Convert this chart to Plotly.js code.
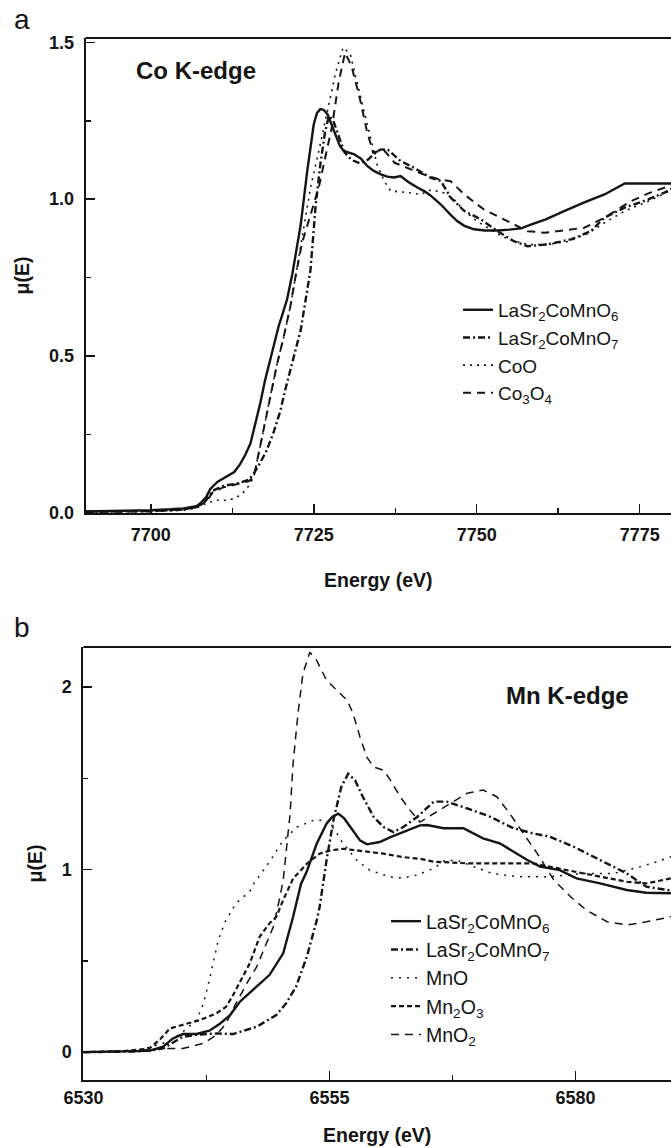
<!DOCTYPE html>
<html>
<head>
<meta charset="utf-8">
<script src="https://cdn.plot.ly/plotly-3.0.1.min.js"></script>
<style>html,body{margin:0;padding:0;background:#fff;overflow:hidden}</style>
</head>
<body>
<div id="chart" style="width:671px;height:1148px"></div>
<script>
// ---------- Panel a: Co K-edge ----------
const coNames = ["LaSr<sub>2</sub>CoMnO<sub>6</sub>", "LaSr<sub>2</sub>CoMnO<sub>7</sub>", "CoO", "Co<sub>3</sub>O<sub>4</sub>"];

const coE_LSCMO6 = [7690,7695,7700,7703,7705,7707,7707.6,7708.5,7709.1,7710.2,7711,7711.7,7712.8,7713.7,7714.5,7715.3,7716.0,7716.8,7717.5,7718.3,7719.0,7719.6,7720.3,7720.9,7721.7,7722.4,7723.0,7724.0,7725.0,7725.5,7726.0,7726.5,7727.1,7728.1,7729.0,7729.6,7730.4,7731.2,7732.2,7733.2,7734.2,7735.3,7736.3,7737.3,7738.3,7739.5,7740.9,7742.0,7742.9,7744.5,7746.0,7747.0,7748.1,7749.6,7751.2,7753.2,7755.0,7756.8,7758.5,7760.5,7763.4,7766.5,7769.6,7771.5,7772.7,7776,7780];
const coMu_LSCMO6 = [0.004,0.005,0.008,0.011,0.014,0.021,0.03,0.05,0.075,0.098,0.108,0.114,0.13,0.155,0.185,0.222,0.28,0.35,0.42,0.487,0.545,0.594,0.64,0.68,0.76,0.84,0.919,1.09,1.239,1.275,1.287,1.285,1.271,1.218,1.17,1.154,1.148,1.143,1.13,1.106,1.09,1.079,1.072,1.069,1.074,1.055,1.037,1.025,1.012,0.983,0.95,0.93,0.915,0.904,0.9,0.9,0.903,0.907,0.92,0.935,0.962,0.99,1.015,1.035,1.05,1.05,1.05];

const coE_LSCMO7 = [7690,7700,7705,7707,7708.3,7709.5,7711,7713.2,7715,7715.8,7716.8,7717.8,7718.9,7719.9,7720.6,7721.4,7722.2,7723.0,7724.0,7724.5,7725.3,7726.0,7726.7,7727.3,7728.0,7728.8,7729.7,7730.8,7732.0,7733.0,7734.2,7735.2,7736.3,7738.3,7740.4,7742.9,7744.5,7746.0,7748.1,7750.6,7753.2,7755.7,7757.8,7760.9,7764.5,7767.5,7769.6,7772.7,7776.3,7778.8,7780];
const coMu_LSCMO7 = [0.003,0.005,0.01,0.018,0.035,0.07,0.085,0.093,0.105,0.125,0.16,0.2,0.26,0.327,0.39,0.455,0.52,0.583,0.711,0.775,0.983,1.11,1.21,1.265,1.25,1.2,1.15,1.125,1.115,1.12,1.143,1.158,1.159,1.122,1.1,1.069,1.058,1.005,0.962,0.936,0.898,0.866,0.85,0.856,0.872,0.898,0.941,0.973,0.999,1.021,1.035];

const coE_CoO = [7690,7700,7705,7707,7708.5,7710,7711.5,7712.8,7714,7715,7715.8,7716.5,7717.3,7718.3,7719.4,7720.4,7721.4,7722.2,7723.0,7724.5,7726.0,7727.3,7728.3,7729.5,7730.6,7731.2,7732.2,7733.2,7734.0,7734.7,7735.8,7736.8,7739.4,7741.4,7743.0,7745.0,7746.5,7748.0,7750.0,7752.0,7754.0,7756.0,7758.0,7760.5,7764.0,7767.0,7770.0,7773.0,7776.0,7779.0,7780];
const coMu_CoO = [0.002,0.004,0.008,0.015,0.03,0.04,0.04,0.045,0.06,0.085,0.114,0.18,0.264,0.37,0.477,0.562,0.657,0.753,0.856,1.037,1.175,1.303,1.399,1.484,1.463,1.41,1.324,1.239,1.165,1.111,1.058,1.026,1.021,1.015,1.03,1.02,1.0,0.965,0.93,0.905,0.88,0.865,0.855,0.855,0.865,0.89,0.93,0.965,0.99,1.02,1.03];

const coE_Co3O4 = [7690,7700,7705,7707,7708.5,7709.5,7711,7713.2,7715,7715.8,7717.3,7718.3,7719.4,7720.4,7721.4,7722.2,7723.2,7724.5,7725.8,7726.8,7727.8,7728.8,7729.8,7730.8,7732.1,7733.1,7734.1,7735.7,7737.4,7740.0,7742.6,7744.5,7746.0,7748.1,7751.1,7754.7,7757.8,7760.4,7763.4,7766.5,7769.6,7773.7,7776.5,7778.8,7780];
const coMu_Co3O4 = [0.003,0.005,0.01,0.018,0.035,0.065,0.08,0.09,0.1,0.114,0.264,0.37,0.477,0.562,0.657,0.753,0.86,0.95,1.04,1.137,1.232,1.371,1.467,1.424,1.318,1.222,1.148,1.158,1.116,1.094,1.073,1.062,1.057,1.015,0.967,0.93,0.898,0.893,0.9,0.909,0.941,0.994,1.02,1.037,1.045];

// ---------- Panel b: Mn K-edge ----------
const mnNames = ["LaSr<sub>2</sub>CoMnO<sub>6</sub>", "LaSr<sub>2</sub>CoMnO<sub>7</sub>", "MnO", "Mn<sub>2</sub>O<sub>3</sub>", "MnO<sub>2</sub>"];

const mnE_LSCMO6 = [6530,6533,6536,6536.7,6538.1,6539.1,6540.1,6541.5,6542.8,6543.9,6544.9,6545.9,6547.2,6548.9,6550.3,6551.3,6552.1,6552.7,6553.7,6554.7,6555.3,6555.9,6556.5,6557.1,6558.1,6558.8,6560.1,6561.2,6562.5,6564.2,6564.9,6566.6,6568.6,6570.6,6572.3,6573.7,6575.1,6576.4,6578.4,6580.1,6582.5,6585.2,6587.2,6589.7];
const mnMu_LSCMO6 = [0.0,0.003,0.005,0.007,0.03,0.075,0.099,0.099,0.117,0.157,0.203,0.276,0.34,0.422,0.541,0.74,0.92,0.99,1.141,1.251,1.29,1.306,1.28,1.233,1.16,1.138,1.151,1.178,1.205,1.242,1.244,1.226,1.226,1.171,1.144,1.098,1.052,1.016,0.997,0.952,0.924,0.888,0.873,0.87];

const mnE_LSCMO7 = [6530,6535,6537,6538.1,6540.1,6541.5,6543.5,6545.2,6547.6,6549.6,6550.6,6551.6,6552.7,6553.7,6554.0,6554.7,6555.4,6556.2,6556.9,6557.6,6558.4,6559.5,6560.5,6561.5,6562.5,6563.9,6565.6,6566.9,6569.0,6571.3,6573.7,6575.7,6577.4,6579.8,6582.5,6585.2,6587.2,6589.7];
const mnMu_LSCMO7 = [0.0,0.003,0.01,0.02,0.084,0.095,0.102,0.099,0.139,0.203,0.267,0.358,0.522,0.72,0.795,1.05,1.27,1.452,1.525,1.489,1.397,1.288,1.233,1.205,1.233,1.288,1.372,1.372,1.335,1.29,1.226,1.198,1.18,1.125,1.052,0.979,0.906,0.885];

const mnE_MnO = [6530,6534,6536,6538.1,6539.2,6540.1,6541.5,6542.2,6542.8,6543.3,6543.7,6544.4,6545.5,6546.9,6547.3,6549.0,6550.3,6551.7,6553.4,6554.7,6555.5,6556.4,6557.8,6559.1,6561.2,6562.4,6563.9,6565.6,6566.7,6568.0,6569.5,6571.5,6574.0,6577.4,6580.8,6583.9,6586.6,6588.3,6589.7];
const mnMu_MnO = [0.0,0.005,0.015,0.048,0.075,0.111,0.175,0.267,0.395,0.522,0.614,0.714,0.815,0.88,0.922,1.05,1.16,1.233,1.27,1.27,1.22,1.141,1.05,0.996,0.959,0.953,0.97,1.006,1.05,1.05,1.02,0.979,0.961,0.961,0.979,0.979,1.016,1.043,1.07];

const mnE_Mn2O3 = [6530,6534,6536.7,6537.8,6538.8,6540.1,6541.8,6543.5,6544.5,6545.2,6546.2,6546.9,6547.9,6548.9,6549.6,6550.3,6551.3,6552.7,6554.0,6555.1,6556.4,6558.4,6560.5,6562.5,6564.2,6565.6,6569.0,6572.3,6575.7,6579.1,6582.5,6585.2,6587.2,6589.7];
const mnMu_Mn2O3 = [0.0,0.005,0.02,0.07,0.13,0.148,0.175,0.212,0.248,0.312,0.413,0.486,0.632,0.705,0.741,0.833,0.95,1.032,1.087,1.105,1.114,1.101,1.087,1.068,1.059,1.043,1.034,1.034,1.034,0.997,0.961,0.933,0.924,0.952];

const mnE_MnO2 = [6530,6535,6538.1,6540.1,6542.2,6543.5,6544.5,6545.5,6546.6,6547.6,6548.6,6549.3,6549.9,6550.3,6551.0,6551.3,6551.8,6552.3,6553.0,6553.7,6554.7,6555.7,6556.8,6557.4,6558.1,6558.8,6559.5,6560.5,6561.2,6562.2,6563.2,6564.2,6565.6,6567.3,6569.0,6570.6,6572.0,6573.3,6574.7,6576.1,6577.8,6579.5,6581.1,6583.2,6585.2,6587.2,6589.7];
const mnMu_MnO2 = [0.0,0.005,0.02,0.02,0.048,0.093,0.157,0.267,0.376,0.467,0.596,0.687,0.833,0.941,1.306,1.58,1.854,2.073,2.19,2.146,2.037,1.982,1.927,1.854,1.726,1.616,1.562,1.544,1.489,1.397,1.324,1.26,1.308,1.363,1.418,1.436,1.399,1.308,1.198,1.089,0.942,0.851,0.778,0.714,0.696,0.714,0.741];

// ---------- Tick settings ----------
const coTicks = [7700, 7725, 7750, 7775];
const coYTicks = [0, 0.5, 1.0, 1.5];
const mnTicks = [6530, 6555, 6580];
const mnYTicks = [0, 1, 2];

const INK = '#141414';
const FONT = 'Liberation Sans, Arial, Helvetica, sans-serif';

function tr(x, y, name, xa, ya, leg, width, dash) {
  return {x: x, y: y, name: name, type: 'scatter', mode: 'lines',
          xaxis: xa, yaxis: ya, legend: leg,
          line: {color: INK, width: width, dash: dash}, hoverinfo: 'skip'};
}

const data = [
  tr(coE_LSCMO6, coMu_LSCMO6, coNames[0], 'x', 'y', 'legend', 2.4, 'solid'),
  tr(coE_LSCMO7, coMu_LSCMO7, coNames[1], 'x', 'y', 'legend', 2.4, '7px,3px,2px,3px'),
  tr(coE_CoO, coMu_CoO, coNames[2], 'x', 'y', 'legend', 1.6, '2px,5px'),
  tr(coE_Co3O4, coMu_Co3O4, coNames[3], 'x', 'y', 'legend', 2.0, '8px,6px'),
  tr(mnE_LSCMO6, mnMu_LSCMO6, mnNames[0], 'x2', 'y2', 'legend2', 2.4, 'solid'),
  tr(mnE_LSCMO7, mnMu_LSCMO7, mnNames[1], 'x2', 'y2', 'legend2', 2.4, '7px,3px,2px,3px'),
  tr(mnE_MnO, mnMu_MnO, mnNames[2], 'x2', 'y2', 'legend2', 1.5, '2px,6px'),
  tr(mnE_Mn2O3, mnMu_Mn2O3, mnNames[3], 'x2', 'y2', 'legend2', 2.2, '5px,3px'),
  tr(mnE_MnO2, mnMu_MnO2, mnNames[4], 'x2', 'y2', 'legend2', 1.5, '8px,6px')
];

const tickFont = {family: FONT, size: 18, color: INK, weight: 'bold'};
const titleFont = {family: FONT, size: 19.5, color: INK, weight: 'bold'};

function xax(domain, anchor, range, ticks, standoff, labelGap) {
  return {domain: domain, anchor: anchor, range: range,
    tickmode: 'array', tickvals: ticks, ticks: 'inside', ticklen: 9, tickwidth: 1.5, tickcolor: INK,
    minor: {ticks: 'inside', ticklen: 5, tickwidth: 1.5, tickcolor: INK, dtick: 12.5, tick0: ticks[0]},
    showline: true, linewidth: 2, linecolor: INK, showgrid: false, zeroline: false,
    tickfont: tickFont, ticklabelstandoff: labelGap,
    title: {text: 'Energy (eV)', font: titleFont, standoff: standoff}};
}
function yax(domain, anchor, range, ticks, fmt, minorStep) {
  return {domain: domain, anchor: anchor, range: range,
    tickmode: 'array', tickvals: ticks, tickformat: fmt, ticks: 'inside', ticklen: 9, tickwidth: 1.5, tickcolor: INK,
    minor: {ticks: 'inside', ticklen: 5, tickwidth: 1.5, tickcolor: INK, dtick: minorStep, tick0: 0},
    showline: true, linewidth: 2, linecolor: INK, showgrid: false, zeroline: false,
    tickfont: tickFont, ticklabelstandoff: 6,
    title: {text: 'μ(E)', font: titleFont, standoff: 14}};
}

const layout = {
  width: 671, height: 1148,
  margin: {l: 0, r: 0, t: 0, b: 0},
  paper_bgcolor: '#ffffff', plot_bgcolor: '#ffffff',
  font: {family: FONT, color: INK},
  xaxis: xax([0.1276, 1], 'y', [7690, 7779.8], coTicks, 30, 4),
  yaxis: yax([0.5531, 0.9669], 'x', [-0.001, 1.514], coYTicks, '.1f', 0.25),
  xaxis2: xax([0.1243, 1], 'y2', [6530, 6589.7], mnTicks, 22, 0),
  yaxis2: yax([0.0592, 0.4364], 'x2', [-0.153, 2.219], mnYTicks, 'd', 0.5),
  legend: {x: 0.6826, y: 0.7466, xanchor: 'left', yanchor: 'top', bgcolor: 'rgba(0,0,0,0)',
           font: {family: FONT, size: 19, color: INK}, tracegroupgap: 0},
  legend2: {x: 0.5753, y: 0.2143, xanchor: 'left', yanchor: 'top', bgcolor: 'rgba(0,0,0,0)',
           font: {family: FONT, size: 19.5, color: INK}, tracegroupgap: 0},
  shapes: [
    {type: 'line', xref: 'x domain', yref: 'y domain', x0: 0, x1: 1, y0: 1, y1: 1, line: {color: INK, width: 2}},
    {type: 'line', xref: 'x2 domain', yref: 'y2 domain', x0: 0, x1: 1, y0: 1, y1: 1, line: {color: INK, width: 2}}
  ],
  annotations: [
    {text: 'a', xref: 'paper', yref: 'paper', x: 22/671, y: 1 - 20/1148, xanchor: 'center', yanchor: 'middle', showarrow: false,
     font: {family: FONT, size: 28, color: INK}},
    {text: 'b', xref: 'paper', yref: 'paper', x: 22/671, y: 1 - 627/1148, xanchor: 'center', yanchor: 'middle', showarrow: false,
     font: {family: FONT, size: 28, color: INK}},
    {text: 'Co K-edge', xref: 'paper', yref: 'paper', x: 196/671, y: 1 - 70/1148, xanchor: 'center', yanchor: 'middle', showarrow: false,
     font: {family: FONT, size: 24, color: INK, weight: 'bold'}},
    {text: 'Mn K-edge', xref: 'paper', yref: 'paper', x: 567/671, y: 1 - 695/1148, xanchor: 'center', yanchor: 'middle', showarrow: false,
     font: {family: FONT, size: 24, color: INK, weight: 'bold'}}
  ]
};

Plotly.newPlot('chart', data, layout, {staticPlot: true, displayModeBar: false});
</script>
</body>
</html>
